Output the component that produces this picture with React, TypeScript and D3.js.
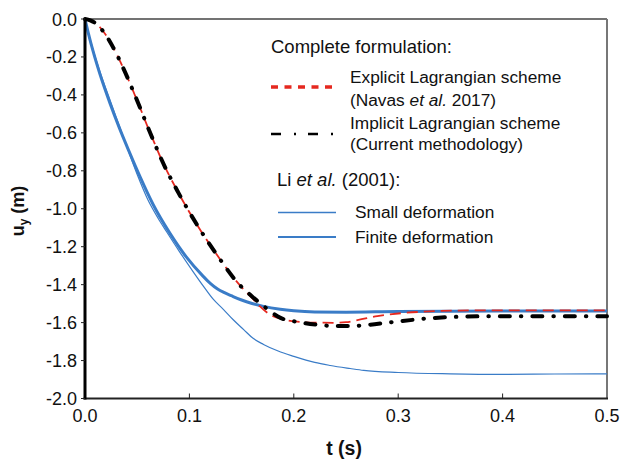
import React from "react";
import * as d3 from "d3";

// ---- Data ----
const xTicks = [0, 0.1, 0.2, 0.3, 0.4, 0.5];
const yTicks = [0, -0.2, -0.4, -0.6, -0.8, -1.0, -1.2, -1.4, -1.6, -1.8, -2.0];

// Li et al. (2001) small deformation (thin blue)
const tSmall = [0, 0.003, 0.009, 0.014, 0.024, 0.033, 0.04, 0.05, 0.06, 0.07, 0.078, 0.09, 0.104, 0.113, 0.123, 0.1325, 0.142, 0.152, 0.161, 0.171, 0.185, 0.2, 0.22, 0.235, 0.254, 0.267, 0.3, 0.35, 0.4, 0.45, 0.5];
const uSmall = [0, -0.068, -0.185, -0.272, -0.428, -0.565, -0.672, -0.82, -0.95, -1.05, -1.12, -1.222, -1.335, -1.405, -1.478, -1.53, -1.585, -1.637, -1.683, -1.715, -1.75, -1.778, -1.81, -1.826, -1.842, -1.852, -1.863, -1.87, -1.873, -1.871, -1.87];

// Li et al. (2001) finite deformation (thick blue)
const tFinite = [0, 0.003, 0.008, 0.014, 0.024, 0.033, 0.042, 0.053, 0.065, 0.0814, 0.097, 0.113, 0.12, 0.127, 0.133, 0.14, 0.15, 0.16, 0.17, 0.187, 0.2, 0.22, 0.25, 0.3, 0.4, 0.5];
const uFinite = [0, -0.07, -0.175, -0.285, -0.445, -0.575, -0.695, -0.835, -0.975, -1.13, -1.254, -1.355, -1.393, -1.423, -1.441, -1.458, -1.481, -1.499, -1.513, -1.53, -1.538, -1.544, -1.545, -1.541, -1.539, -1.539];

// Explicit Lagrangian scheme (red dashed)
const tExplicit = [0, 0.005, 0.01, 0.0172, 0.0268, 0.0338, 0.0412, 0.0475, 0.054, 0.0594, 0.067, 0.0734, 0.0894, 0.107, 0.126, 0.147, 0.16, 0.1676, 0.177, 0.19, 0.201, 0.22, 0.24, 0.25, 0.265, 0.28, 0.3, 0.33, 0.37, 0.5];
const uExplicit = [0, -0.007, -0.022, -0.063, -0.148, -0.225, -0.315, -0.398, -0.485, -0.56, -0.66, -0.742, -0.915, -1.082, -1.24, -1.395, -1.47, -1.515, -1.557, -1.583, -1.594, -1.6, -1.601, -1.598, -1.582, -1.566, -1.552, -1.541, -1.536, -1.536];

// Implicit Lagrangian scheme (black dash-dot)
const tImplicit = [0, 0.005, 0.01, 0.0172, 0.0268, 0.0338, 0.0412, 0.0475, 0.054, 0.0594, 0.067, 0.0734, 0.0894, 0.107, 0.126, 0.147, 0.16, 0.1734, 0.1868, 0.2043, 0.222, 0.24, 0.255, 0.273, 0.292, 0.333, 0.381, 0.43, 0.5];
const uImplicit = [0, -0.007, -0.022, -0.063, -0.148, -0.225, -0.315, -0.398, -0.485, -0.56, -0.66, -0.742, -0.915, -1.082, -1.24, -1.395, -1.462, -1.523, -1.574, -1.597, -1.611, -1.618, -1.618, -1.611, -1.599, -1.576, -1.567, -1.567, -1.567];

const FONT = "'Liberation Sans', Arial, Helvetica, sans-serif";

export default function App() {
  const W = 628, H = 460;
  const x = d3.scaleLinear().domain([0, 0.5]).range([85, 607]);
  const y = d3.scaleLinear().domain([0, -2]).range([19, 398.5]);
  const line = d3
    .line<[number, number]>()
    .x((d) => x(d[0]))
    .y((d) => y(d[1]))
    .curve(d3.curveMonotoneX);
  const zip = (a: number[], b: number[]) => a.map((v, i) => [v, b[i]] as [number, number]);

  const blue = "#3a7cc7";
  const red = "#e5281f";

  return (
    <div style={{ position: "absolute", left: 0, top: 0 }}>
      <svg width={W} height={H} style={{ display: "block", background: "#fff" }} fontFamily={FONT}>
        {/* frame top & right */}
        <line x1={x(0)} x2={x(0.5)} y1={y(0)} y2={y(0)} stroke="#444" strokeWidth={1.5} />
        <line x1={x(0.5)} x2={x(0.5)} y1={y(0)} y2={y(-2)} stroke="#777" strokeWidth={2} />

        {/* series */}
        <path d={line(zip(tSmall, uSmall)) || ""} fill="none" stroke={blue} strokeWidth={1.2} />
        <path d={line(zip(tFinite, uFinite)) || ""} fill="none" stroke={blue} strokeWidth={3} />
        <path d={line(zip(tExplicit, uExplicit)) || ""} fill="none" stroke={red} strokeWidth={1.8} strokeDasharray="11,6" />
        <path
          d={line(zip(tImplicit, uImplicit)) || ""}
          fill="none"
          stroke="#000"
          strokeWidth={4}
          strokeLinecap="round"
          strokeDasharray="10,11,0.5,11"
        />

        {/* bottom axis */}
        <line x1={x(0) - 1.5} x2={x(0.5) + 1} y1={y(-2)} y2={y(-2)} stroke="#222" strokeWidth={2} />
        {xTicks.map((t) => (
          <g key={"xt" + t}>
            {t > 0 && t < 0.5 && (
              <line x1={x(t)} x2={x(t)} y1={y(-2)} y2={y(-2) - 5} stroke="#222" strokeWidth={1} />
            )}
            <text x={x(t)} y={422} fontSize={18} textAnchor="middle" fill="#111">
              {d3.format(".1f")(t)}
            </text>
          </g>
        ))}

        {/* left axis */}
        <line x1={x(0)} x2={x(0)} y1={y(0) - 1} y2={y(-2) + 1} stroke="#000" strokeWidth={3} />
        {yTicks.map((v) => (
          <g key={"yt" + v}>
            <line x1={x(0) - 4} x2={x(0)} y1={y(v)} y2={y(v)} stroke="#222" strokeWidth={1} />
            <text x={77} y={y(v) + 6.5} fontSize={18} textAnchor="end" fill="#111">
              {d3.format(".1f")(v).replace("−", "-")}
            </text>
          </g>
        ))}

        {/* axis titles */}
        <text x={344} y={455} fontSize={19.5} fontWeight="bold" textAnchor="middle" fill="#111">
          t (s)
        </text>
        <text transform="translate(24,211) rotate(-90)" fontSize={18} fontWeight="bold" textAnchor="middle" fill="#111">
          u<tspan fontSize={12} dy={4}>y</tspan>
          <tspan dy={-4}> (m)</tspan>
        </text>

        {/* legend */}
        <text x={271} y={53} fontSize={18.5} fill="#111">Complete formulation:</text>
        <line x1={271} x2={333} y1={87} y2={87} stroke={red} strokeWidth={3.5} strokeDasharray="7,6.5" />
        <text x={350} y={83} fontSize={17.3} fill="#111">Explicit Lagrangian scheme</text>
        <text x={350} y={106} fontSize={17.3} fill="#111">
          (Navas <tspan fontStyle="italic">et al.</tspan> 2017)
        </text>
        <line x1={271} x2={334} y1={134} y2={134} stroke="#000" strokeWidth={2.5} strokeDasharray="10,13,2,12" />
        <text x={350} y={129} fontSize={17.3} fill="#111">Implicit Lagrangian scheme</text>
        <text x={350} y={150} fontSize={17.3} fill="#111">(Current methodology)</text>

        <text x={277} y={186} fontSize={18.5} fill="#111">
          Li <tspan fontStyle="italic">et al.</tspan> (2001):
        </text>
        <line x1={278} x2={336} y1={212.5} y2={212.5} stroke={blue} strokeWidth={1.3} />
        <text x={355} y={218} fontSize={17.3} fill="#111">Small deformation</text>
        <line x1={278} x2={336} y1={237} y2={237} stroke={blue} strokeWidth={2} />
        <text x={355} y={243} fontSize={17.3} fill="#111">Finite deformation</text>
      </svg>
    </div>
  );
}
